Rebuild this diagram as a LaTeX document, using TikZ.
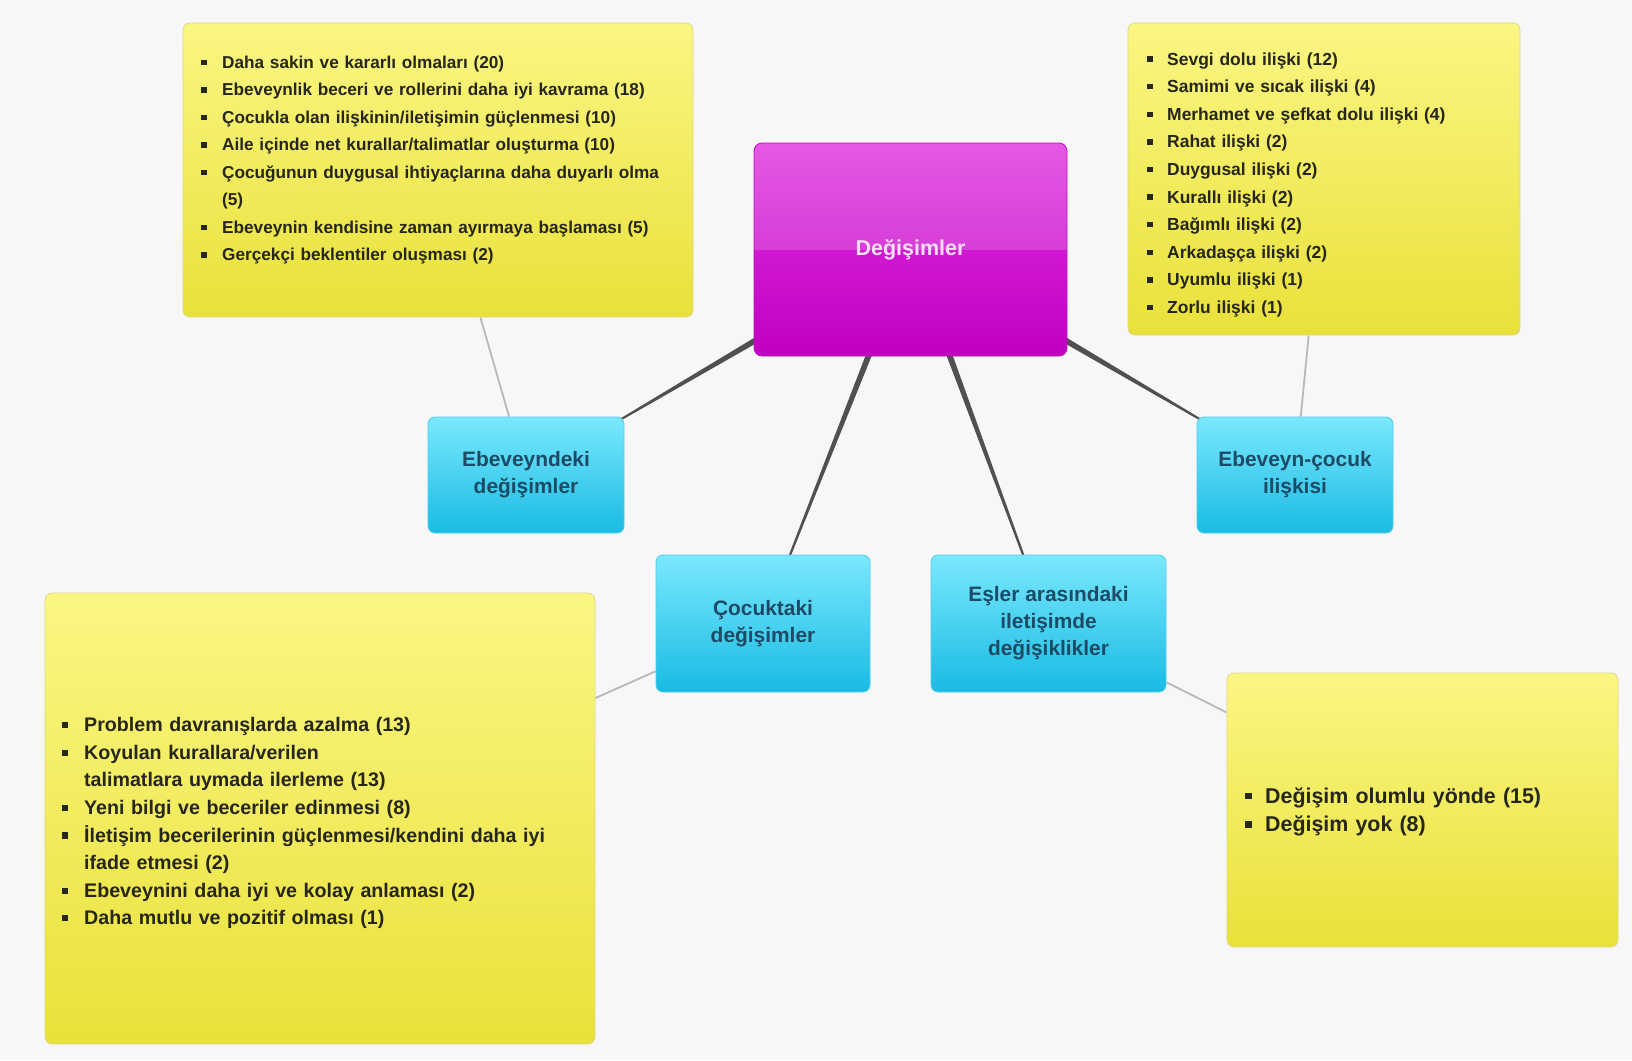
\documentclass[tikz,border=0pt]{standalone}
\usepackage{fontspec}
\setmainfont{Liberation Sans}
\usetikzlibrary{calc}

% palette
\definecolor{canvas}{HTML}{F7F7F7}
\definecolor{noteT}{HTML}{FAF683}
\definecolor{noteB}{HTML}{E9E13A}
\definecolor{noteEdge}{HTML}{DDD88E}
\definecolor{noteInk}{HTML}{26261A}
\definecolor{topicT}{HTML}{7AE8FD}
\definecolor{topicB}{HTML}{19BBE3}
\definecolor{topicEdge}{HTML}{4FCDEB}
\definecolor{topicInk}{HTML}{1D4B66}
\definecolor{hubTop}{HTML}{E458E4}
\definecolor{hubMidHi}{HTML}{D63ED8}
\definecolor{hubMidLo}{HTML}{D018D2}
\definecolor{hubBot}{HTML}{C000C0}
\definecolor{hubEdge}{HTML}{C20CC2}
\definecolor{hubInk}{HTML}{FADDFA}
\definecolor{linkLight}{HTML}{B8B8B8}
\definecolor{linkDark}{HTML}{505050}

% glossy two-tone fill for the central box
\pgfdeclareverticalshading{hubgloss}{100bp}{color(0bp)=(hubBot); color(25bp)=(hubBot); color(50bp)=(hubMidLo); color(50bp)=(hubMidHi); color(75bp)=(hubTop); color(100bp)=(hubTop)}

\pgfdeclarelayer{bg}
\pgfdeclarelayer{links}
\pgfsetlayers{bg,links,main}

% bulleted entry with a hanging indent (one paragraph per entry)
\newlength\bulletgap
\newcommand\bitem[1]{\noindent\hangindent=\bulletgap\hangafter=1
  \makebox[\bulletgap][l]{\rule[0.18em]{0.31em}{0.31em}}#1\par}

% tapered spoke from the hub towards a topic box
\newcommand\taperlink[3]{%
  \path ($(c.center)!#2!(#1)$) coordinate (ta)
        ($(c.center)!#3!(#1)$) coordinate (tb);
  \fill[darklink] ($(ta)!3pt!90:(tb)$) -- ($(tb)!1pt!-90:(ta)$)
    -- ($(tb)!1pt!90:(ta)$) -- ($(ta)!3pt!-90:(tb)$) -- cycle;}

\tikzset{
  notebox/.style={rectangle, rounded corners=7pt, draw=noteEdge, line width=0.8pt,
    top color=noteT, bottom color=noteB, inner sep=0pt},
  notetext/.style={anchor=base west, inner sep=0pt, align=left, text=noteInk},
  topicbox/.style={rectangle, rounded corners=7pt, draw=topicEdge, line width=0.8pt,
    top color=topicT, bottom color=topicB, text=topicInk, align=center,
    font=\fontsize{20.9}{27}\selectfont\bfseries, inner sep=0pt},
  hubbox/.style={rectangle, rounded corners=8pt, draw=hubEdge, line width=0.8pt,
    shading=hubgloss, text=hubInk, font=\fontsize{21.5}{26}\selectfont\bfseries},
  lightlink/.style={draw=linkLight, line width=1.8pt},
  darklink/.style={fill=linkDark}
}

\begin{document}
\begin{tikzpicture}[x=1pt, y=-1pt]
\useasboundingbox (0,0) rectangle (1632,1060);
\begin{pgfonlayer}{bg}
  \fill[canvas] (0,0) rectangle (1632,1060);
\end{pgfonlayer}

% hub
\node[hubbox, minimum width=313pt, minimum height=213pt] (c) at (910.5,249.5) {Değişimler};

% topics
\node[topicbox, minimum width=196pt, minimum height=116pt] (e1) at (526,475) {Ebeveyndeki\\değişimler};
\node[topicbox, minimum width=196pt, minimum height=116pt] (e3) at (1295,475) {Ebeveyn-çocuk\\ilişkisi};
\node[topicbox, minimum width=214pt, minimum height=137pt] (e2) at (763,623.5) {Çocuktaki\\değişimler};
\node[topicbox, minimum width=235pt, minimum height=137pt] (e4) at (1048.5,623.5) {Eşler arasındaki\\iletişimde\\değişiklikler};

% note boxes
\node[notebox, minimum width=510pt, minimum height=294pt] (n1) at (438,170) {};
\node[notebox, minimum width=392pt, minimum height=312pt] (n2) at (1324,179) {};
\node[notebox, minimum width=550pt, minimum height=451pt] (n3) at (320,818.5) {};
\node[notebox, minimum width=391pt, minimum height=274pt] (n4) at (1422.5,810) {};

% note texts
\node[notetext, text width=485pt, font=\fontsize{17.2}{27.5}\selectfont\bfseries] (t1) at (201,68.3) {%
  \setlength\bulletgap{21pt}%
  \bitem{Daha sakin ve kararlı olmaları (20)}
  \bitem{Ebeveynlik beceri ve rollerini daha iyi kavrama (18)}
  \bitem{Çocukla olan ilişkinin/iletişimin güçlenmesi (10)}
  \bitem{Aile içinde net kurallar/talimatlar oluşturma (10)}
  \bitem{Çocuğunun duygusal ihtiyaçlarına daha duyarlı olma\newline (5)}
  \bitem{Ebeveynin kendisine zaman ayırmaya başlaması (5)}
  \bitem{Gerçekçi beklentiler oluşması (2)}};

\node[notetext, text width=360pt, font=\fontsize{17.45}{27.6}\selectfont\bfseries] (t2) at (1147,65) {%
  \setlength\bulletgap{20pt}%
  \bitem{Sevgi dolu ilişki (12)}
  \bitem{Samimi ve sıcak ilişki (4)}
  \bitem{Merhamet ve şefkat dolu ilişki (4)}
  \bitem{Rahat ilişki (2)}
  \bitem{Duygusal ilişki (2)}
  \bitem{Kurallı ilişki (2)}
  \bitem{Bağımlı ilişki (2)}
  \bitem{Arkadaşça ilişki (2)}
  \bitem{Uyumlu ilişki (1)}
  \bitem{Zorlu ilişki (1)}};

\node[notetext, text width=525pt, font=\fontsize{19.65}{27.6}\selectfont\bfseries] (t3) at (62,731.7) {%
  \setlength\bulletgap{22pt}%
  \bitem{Problem davranışlarda azalma (13)}
  \bitem{Koyulan kurallara/verilen\newline talimatlara uymada ilerleme (13)}
  \bitem{Yeni bilgi ve beceriler edinmesi (8)}
  \bitem{İletişim becerilerinin güçlenmesi/kendini daha iyi\newline ifade etmesi (2)}
  \bitem{Ebeveynini daha iyi ve kolay anlaması (2)}
  \bitem{Daha mutlu ve pozitif olması (1)}};

\node[notetext, text width=360pt, font=\fontsize{21.4}{28.4}\selectfont\bfseries] (t4) at (1245,803.3) {%
  \setlength\bulletgap{20pt}%
  \bitem{Değişim olumlu yönde (15)}
  \bitem{Değişim yok (8)}};

% connectors
\begin{pgfonlayer}{links}
  \draw[lightlink] (e1) -- (n1);
  \draw[lightlink] (e3) -- (n2);
  \draw[lightlink] (e2) -- (n3);
  \draw[lightlink] (e4) -- (n4);
  \taperlink{e1}{0.38}{0.76}
  \taperlink{e3}{0.38}{0.76}
  \taperlink{e2}{0.26}{0.84}
  \taperlink{e4}{0.26}{0.84}
\end{pgfonlayer}
\end{tikzpicture}
\end{document}
